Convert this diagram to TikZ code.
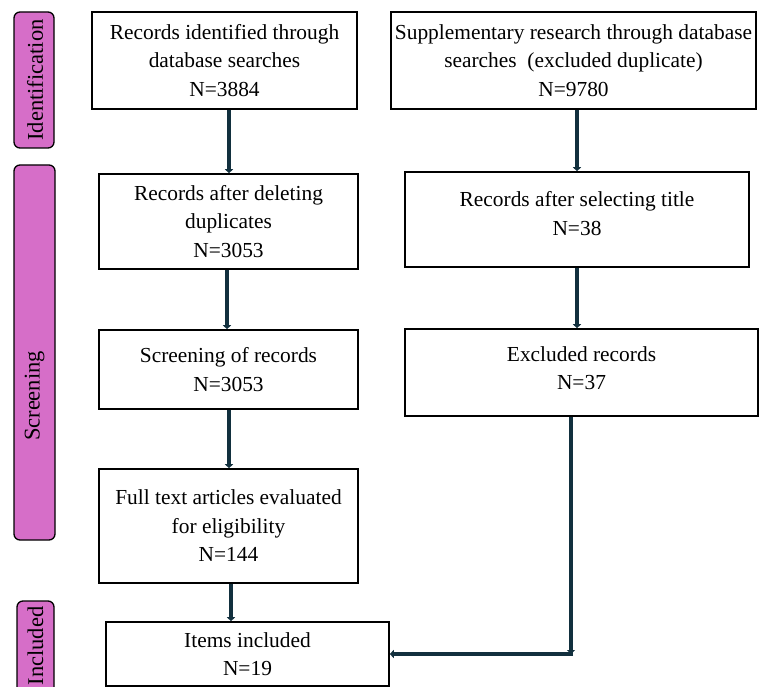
\documentclass[tikz,border=0pt]{standalone}
\usepackage{fontspec}
\setmainfont{Liberation Serif}
\usetikzlibrary{arrows.meta,calc}
\definecolor{barpink}{RGB}{214,110,200}
\definecolor{arrowdark}{RGB}{18,48,62}
\tikzset{
  box/.style={draw=black, line width=1.6pt, rectangle, inner sep=0pt, align=center,
    font=\fontsize{21.4}{28.5}\selectfont},
  bar/.style={draw=black, line width=1.3pt, fill=barpink, rounded corners=6pt, inner sep=0pt},
  bartext/.style={rotate=90, inner sep=0pt, font=\fontsize{22.5}{26}\selectfont},
  arr/.style={draw=arrowdark, line width=3.6pt, -{Triangle[width=8pt,length=4pt]}},
  seg/.style={draw=arrowdark, line width=3.6pt}
}
\begin{document}
\begin{tikzpicture}[x=1pt,y=-1pt]
\useasboundingbox (0,0) rectangle (761,687);
% stage bars
\node[bar, minimum width=40, minimum height=136] (identbar) at (34,80) {};
\node[bartext] (identtxt) at (35,80) {Identification};
\node[bar, minimum width=41, minimum height=375] (screenbar) at (34.5,352.5) {};
\node[bartext] (screentxt) at (34.5,396) {Screening};
\begin{scope}
\clip (0,0) rectangle (761,687);
\node[bar, minimum width=37, minimum height=110] (inclbar) at (35.5,656) {};
\end{scope}
\node[bartext] (incltxt) at (35.5,646) {Included};
% boxes
\node[box, minimum width=265, minimum height=97] (b1) at (224.5,60.5)
  {Records identified through\\database searches\\N=3884};
\node[box, minimum width=365, minimum height=97] (b2) at (573.5,60.5)
  {Supplementary research through database\\searches\ \ (excluded duplicate)\\N=9780};
\node[box, minimum width=259, minimum height=95] (b3) at (228.5,221.5)
  {Records after deleting\\duplicates\\N=3053};
\node[box, minimum width=344, minimum height=95] (b4) at (577,219.5)
  {Records after selecting title\\N=38\rule[-12pt]{0pt}{0pt}};
\node[box, minimum width=259, minimum height=79] (b5) at (228.5,369.5)
  {Screening of records\\N=3053};
\node[box, minimum width=353, minimum height=87] (b6) at (581.5,372.5)
  {Excluded records\\N=37\rule[-9pt]{0pt}{0pt}};
\node[box, minimum width=259, minimum height=114] (b7) at (228.5,526)
  {Full text articles evaluated\\for eligibility\\N=144};
\node[box, minimum width=283, minimum height=64] (b8) at (247.5,654)
  {Items included\\N=19};
% connectors
\draw[arr] ([xshift=0.5pt]b3.north |- b1.south) -- ([xshift=0.5pt]b3.north);
\draw[arr] ([xshift=-1.5pt]b5.north |- b3.south) -- ([xshift=-1.5pt]b5.north);
\draw[arr] ([xshift=0.5pt]b7.north |- b5.south) -- ([xshift=0.5pt]b7.north);
\draw[arr] ([xshift=2.5pt]b7.south) -- ([xshift=2.5pt]b7.south |- b8.north);
\draw[arr] (b4.north |- b2.south) -- (b4.north);
\draw[arr] (b4.south) -- (b4.south |- b6.north);
\coordinate (bend) at (571,654);
\draw[arr] (b6.south -| bend) -- (bend);
\draw[arr] ([xshift=2pt]bend) -- (b8.east);
\end{tikzpicture}
\end{document}
